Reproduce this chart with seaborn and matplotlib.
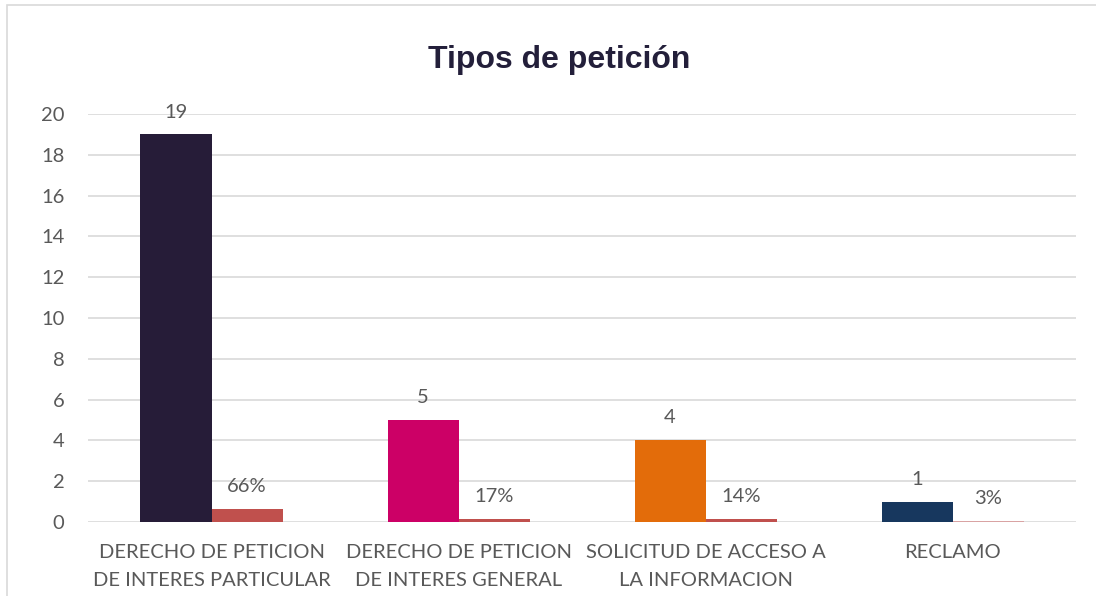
import pandas as pd
import matplotlib.pyplot as plt
import seaborn as sns
from matplotlib.patches import Rectangle

# Tipos de peticion: cantidad y porcentaje
categorias = ["DERECHO DE PETICION\nDE INTERES PARTICULAR",
              "DERECHO DE PETICION\nDE INTERES GENERAL",
              "SOLICITUD DE ACCESO A\nLA INFORMACION",
              "RECLAMO"]
cantidades = [19, 5, 4, 1]
porcentajes = [0.66, 0.17, 0.14, 0.03]
etiquetas_pct = ["66%", "17%", "14%", "3%"]

colores_cant = ["#261C38", "#CC0066", "#E36C0A", "#17375E"]
colores_pct = ["#C0504D", "#C0504D", "#C0504D", "#D9A3A3"]

df = pd.DataFrame({
    "categoria": categorias * 2,
    "valor": cantidades + porcentajes,
    "serie": ["Cantidad"] * 4 + ["Porcentaje"] * 4,
})

sns.set_style("white")
plt.rcParams["font.family"] = ["Lato", "DejaVu Sans"]
gris = "#595959"

fig = plt.figure(figsize=(10.96, 5.96), dpi=100)
ax = fig.add_axes([0.0803, 0.1242, 0.9015, 0.6845])

sns.barplot(data=df, x="categoria", y="valor", hue="serie", width=0.575,
            dodge=True, legend=False, ax=ax, saturation=1)

for cont, cols in zip(ax.containers, [colores_cant, colores_pct]):
    for bar, c in zip(cont, cols):
        bar.set_facecolor(c)
        bar.set_edgecolor("none")

ax.bar_label(ax.containers[0], labels=[str(v) for v in cantidades],
             padding=10, fontsize=14.5, color=gris)
ax.bar_label(ax.containers[1], labels=etiquetas_pct,
             padding=10, fontsize=14.5, color=gris)

ax.set_ylim(0, 20)
ax.set_xlim(-0.5, 3.5)
ax.set_yticks(range(0, 21, 2))
ax.yaxis.grid(True, color="#D9D9D9", linewidth=1.2)
ax.set_axisbelow(True)
for s in ax.spines.values():
    s.set_visible(False)
ax.tick_params(axis="both", length=0, labelsize=14.5, labelcolor=gris)
ax.tick_params(axis="y", pad=17)
ax.tick_params(axis="x", pad=16)
for lbl in ax.get_xticklabels():
    lbl.set_linespacing(1.75)
ax.set_xlabel("")
ax.set_ylabel("")

fig.text(0.51, 0.899, "Tipos de petición", ha="center", va="center",
         fontsize=23, fontweight="bold", color="#231F3A",
         family=["Liberation Sans", "DejaVu Sans"])

# marco del grafico
fig.patches.append(Rectangle((7 / 1096, -0.1), 1.2, 1 - 5 / 596 + 0.1,
                             transform=fig.transFigure, fill=False,
                             edgecolor="#D9D9D9", linewidth=1.2))

fig.savefig("out.png", dpi=100)
